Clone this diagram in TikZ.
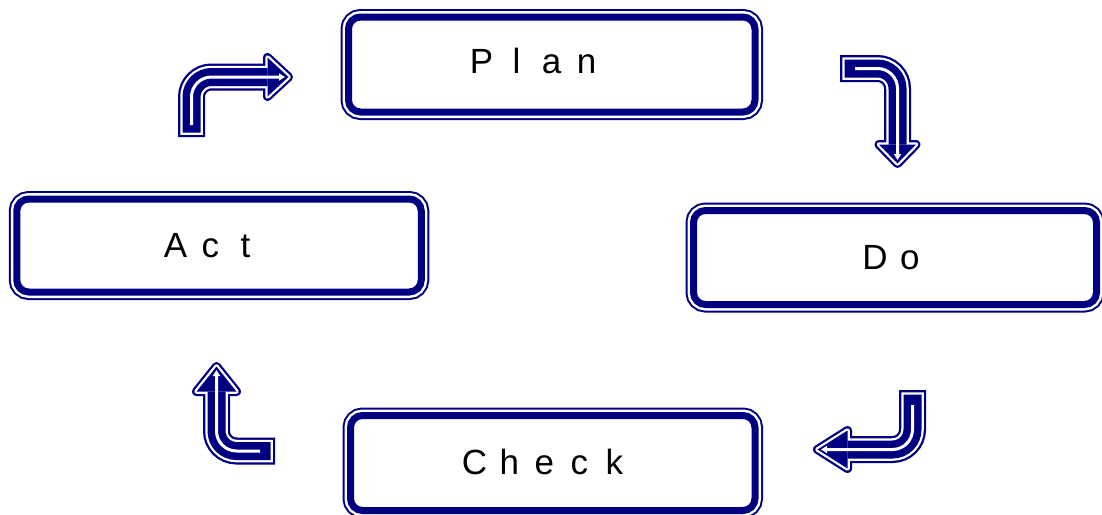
\documentclass[tikz,border=0pt]{standalone}
\usepackage{fontspec}
\setmainfont{Liberation Sans}
\usetikzlibrary{arrows.meta}
\definecolor{pdnavy}{RGB}{0,0,128}
\newcommand{\pc}[1]{\makebox[35pt]{#1}}
\newcommand{\pdcaarrow}[3]{%
  \draw[pdnavy, line width=27pt, line cap=rect, rounded corners=20pt] #1;
  \filldraw[pdnavy, line width=9pt, line join=round] #2 -- cycle;
  \draw[white, line width=22.5pt, line cap=rect, rounded corners=20pt] #1;
  \filldraw[white, line width=4.5pt, line join=round] #2 -- cycle;
  \draw[pdnavy, line width=18pt, line cap=rect, rounded corners=20pt] #1;
  \fill[pdnavy] #2 -- cycle;
  \draw[white, line width=3pt, rounded corners=20pt, -{Triangle[width=7pt,length=6pt]}] #3;
}
\tikzset{
  stagebox/.style={shape=rectangle, rounded corners=12pt, inner sep=0pt,
    preaction={draw=pdnavy, line width=16pt},
    preaction={draw=white, line width=12pt},
    fill=white, draw=pdnavy, line width=7pt},
  stagetext/.style={anchor=base, inner sep=0pt, font=\fontsize{35}{40}\selectfont, text=black}
}
\begin{document}
\begin{tikzpicture}[x=1pt, y=-1pt]
\useasboundingbox (0,0) rectangle (1102,514);
% boxes
\node[stagebox, minimum width=406.5pt, minimum height=95pt] (plan) at (551.75,64.5) {};
\node[stagebox, minimum width=404.5pt, minimum height=93pt] (act) at (219,245.5) {};
\node[stagebox, minimum width=403pt, minimum height=94pt] (do) at (895,257.5) {};
\node[stagebox, minimum width=404.5pt, minimum height=95pt] (check) at (552.75,463) {};
% labels
\node[stagetext] (plantext) at (534,73) {\pc{P}\pc{l}\pc{a}\pc{n}};
\node[stagetext] (acttext) at (210.5,257) {\pc{A}\pc{c}\pc{t}};
\node[stagetext] (dotext) at (892.5,269) {\pc{D}\pc{o}};
\node[stagetext] (checktext) at (544.5,474) {\pc{C}\pc{h}\pc{e}\pc{c}\pc{k}};
% bent arrows
\pdcaarrow{(191.5,123.5) -- (191.5,77) -- (258.5,77)}
  {(267.5,57.5) -- (288.5,77) -- (267.5,96.5)}
  {(191.5,125) -- (191.5,77) -- (285,77)}
\pdcaarrow{(853.5,68.5) -- (897.5,68.5) -- (897.5,135.5)}
  {(879,144.5) -- (897.5,163.5) -- (916,144.5)}
  {(855,68.5) -- (897.5,68.5) -- (897.5,160)}
\pdcaarrow{(912.5,403.5) -- (912.5,449.5) -- (856.5,449.5)}
  {(847.5,430.5) -- (817.5,449.5) -- (847.5,468.5)}
  {(912.5,405) -- (912.5,449.5) -- (821,449.5)}
\pdcaarrow{(261.5,451) -- (216.5,451) -- (216.5,400.5)}
  {(196.5,391.5) -- (216.5,366.5) -- (236.5,391.5)}
  {(260,451) -- (216.5,451) -- (216.5,370)}
\end{tikzpicture}
\end{document}
